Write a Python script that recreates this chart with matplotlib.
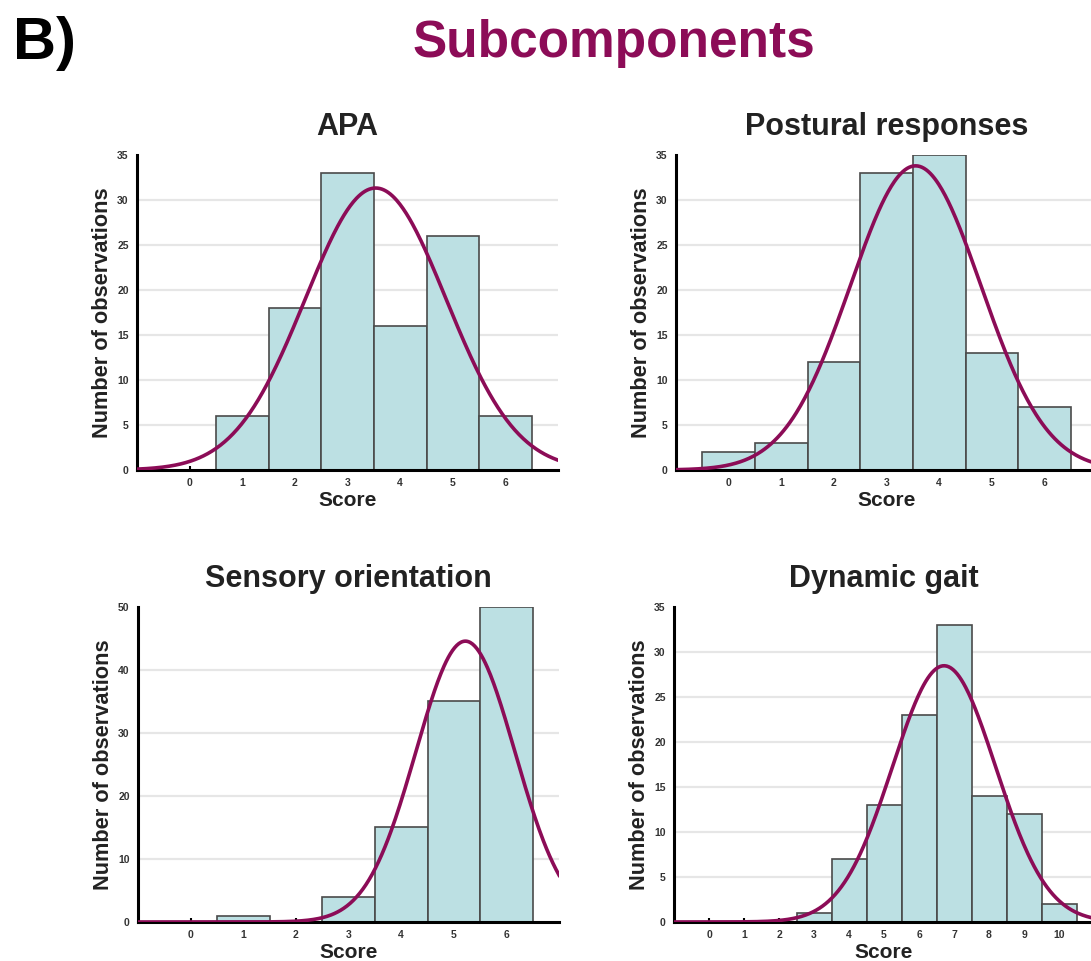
import numpy as np
import matplotlib.pyplot as plt

plt.rcParams['font.family'] = ['Liberation Sans', 'DejaVu Sans']

# counts per score
apa_scores = [0, 1, 2, 3, 4, 5, 6]
apa_counts = [0, 6, 18, 33, 16, 26, 6]

post_scores = [0, 1, 2, 3, 4, 5, 6]
post_counts = [2, 3, 12, 33, 35, 13, 7]

sens_scores = [0, 1, 2, 3, 4, 5, 6]
sens_counts = [0, 1, 0, 4, 15, 35, 50]

gait_scores = [0, 1, 2, 3, 4, 5, 6, 7, 8, 9, 10]
gait_counts = [0, 0, 0, 1, 7, 13, 23, 33, 14, 12, 2]

titles = ["APA", "Postural responses", "Sensory orientation", "Dynamic gait"]

bar_color = "#bce0e3"
curve_color = "#8c0c57"

fig = plt.figure(figsize=(10.91, 9.61), dpi=100)

fig.text(0.012, 0.955, "B)", fontsize=43, fontweight="bold", va="center", ha="left")
fig.text(0.563, 0.955, "Subcomponents", fontsize=37, fontweight="bold",
         color=curve_color, va="center", ha="center")

panels = [
    ([0.1256, 0.5109, 0.386, 0.328], apa_scores, apa_counts, (-1, 7), 35, 5),
    ([0.6196, 0.5109, 0.386, 0.328], post_scores, post_counts, (-1, 7), 35, 5),
    ([0.1265, 0.0406, 0.386, 0.328], sens_scores, sens_counts, (-1, 7), 50, 10),
    ([0.6178, 0.0406, 0.385, 0.328], gait_scores, gait_counts, (-1, 11), 35, 5),
]

for (pos, scores, counts, xlim, ymax, ystep), title in zip(panels, titles):
    ax = fig.add_axes(pos)
    s = np.array(scores, dtype=float)
    c = np.array(counts, dtype=float)
    n = c.sum()
    mean = (s * c).sum() / n
    sd = np.sqrt((c * (s - mean) ** 2).sum() / (n - 1))

    ax.bar(s, c, width=1.0, color=bar_color, edgecolor="#4a4a4a", linewidth=1.2, zorder=2)

    # fitted normal curve, scaled to counts
    xx = np.linspace(xlim[0], xlim[1], 400)
    yy = n / (sd * np.sqrt(2 * np.pi)) * np.exp(-0.5 * ((xx - mean) / sd) ** 2)
    ax.plot(xx, yy, color=curve_color, linewidth=2.6, zorder=3)

    ax.set_xlim(*xlim)
    ax.set_ylim(0, ymax)
    ax.set_xticks(scores)
    ax.set_yticks(np.arange(0, ymax + 1, ystep))
    for g in np.arange(ystep, ymax, ystep):
        ax.axhline(g, color="#e6e6e6", linewidth=1.6, zorder=0)

    for side in ["top", "right"]:
        ax.spines[side].set_visible(False)
    ax.spines["left"].set_linewidth(2.2)
    ax.spines["bottom"].set_linewidth(2.2)

    ax.tick_params(axis="x", direction="in", length=3, width=1.5, labelsize=7.5,
                   labelcolor="#333333", pad=6)
    ax.tick_params(axis="y", length=0, labelsize=7.5, labelcolor="#333333", pad=6)
    for lab in ax.get_xticklabels() + ax.get_yticklabels():
        lab.set_fontweight("bold")

    ax.set_xlabel("Score", fontsize=15, fontweight="bold", color="#222222", labelpad=2)
    ax.set_ylabel("Number of observations", fontsize=15.7, fontweight="bold",
                  color="#222222", labelpad=3)
    ax.set_title(title, fontsize=22, fontweight="bold", color="#222222", pad=14)

fig.savefig("out.png", dpi=100)
